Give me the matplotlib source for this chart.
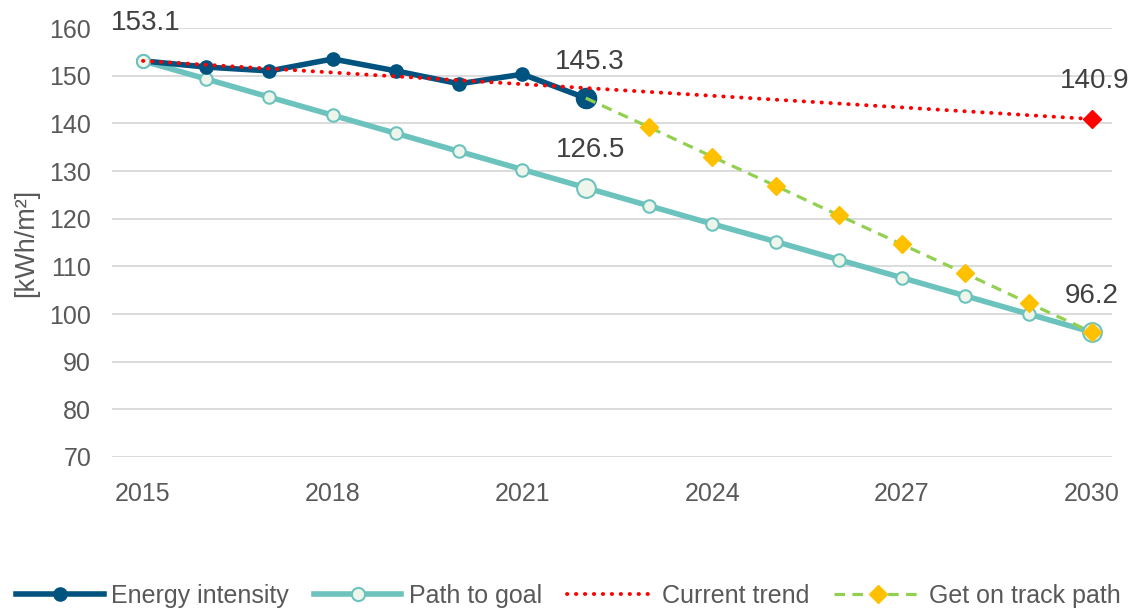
import matplotlib
matplotlib.use("Agg")
import matplotlib.pyplot as plt
from matplotlib.lines import Line2D

plt.rcParams['font.family'] = ['Liberation Sans', 'DejaVu Sans']

years_actual = [2015, 2016, 2017, 2018, 2019, 2020, 2021, 2022]
energy_intensity = [153.1, 151.8, 151.0, 153.5, 151.0, 148.3, 150.3, 145.3]

years_goal = list(range(2015, 2031))
path_to_goal = [153.1, 149.3, 145.5, 141.7, 137.9, 134.1, 130.3, 126.5,
                122.7, 118.9, 115.2, 111.4, 107.6, 103.8, 100.0, 96.2]

years_trend = [2015, 2030]
current_trend = [153.1, 140.9]

years_track = list(range(2022, 2031))
get_on_track = [145.3, 139.2, 133.0, 126.9, 120.7, 114.6, 108.5, 102.3, 96.2]

yticks = [70, 80, 90, 100, 110, 120, 130, 140, 150, 160]
xticks = [2015, 2018, 2021, 2024, 2027, 2030]

C_EI = '#00527F'
C_PG = '#6CC3BD'
C_PG_FILL = '#EEF6EC'
C_TR = '#FF0000'
C_GL = '#92D050'
C_GM = '#FFC000'

DOT = (0, (0.1, 2.2))
DASH = (0, (3.3, 2.3))

fig = plt.figure(figsize=(11.37, 6.10), dpi=100)
ax = fig.add_axes([112/1137, 1-457/610, 1000/1137, (457-28)/610])

# Path to goal
ax.plot(years_goal, path_to_goal, color=C_PG, lw=4.0, zorder=2,
        marker='o', ms=9, mfc=C_PG_FILL, mec=C_PG, mew=1.5)
ax.plot([years_goal[7], years_goal[-1]], [path_to_goal[7], path_to_goal[-1]],
        ls='none', marker='o', ms=13.5, mfc=C_PG_FILL, mec=C_PG, mew=1.5, zorder=3)

# Energy intensity
ax.plot(years_actual, energy_intensity, color=C_EI, lw=4.0, zorder=4,
        marker='o', ms=9.5, mfc=C_EI, mec=C_EI)
ax.plot([years_actual[-1]], [energy_intensity[-1]], ls='none', marker='o', ms=14.5,
        mfc=C_EI, mec=C_EI, zorder=4)
ax.plot([years_goal[0]], [path_to_goal[0]], ls='none', marker='o', ms=9.5,
        mfc=C_PG_FILL, mec=C_PG, mew=1.5, zorder=5)

# Current trend
ax.plot(years_trend, current_trend, color=C_TR, lw=2.8, ls=DOT,
        dash_capstyle='round', zorder=6)
ax.plot([years_trend[-1]], [current_trend[-1]], ls='none', marker='D', ms=9.5,
        color=C_TR, zorder=6)

# Get on track
ax.plot(years_track, get_on_track, color=C_GL, lw=2.3, ls=DASH, zorder=7)
ax.plot(years_track[1:], get_on_track[1:], ls='none', marker='D', ms=9.5,
        color=C_GM, zorder=8)

ax.set_xlim(2014.51, 2030.32)
ax.set_ylim(70, 160)
ax.set_yticks(yticks)
ax.set_xticks(xticks)
ax.grid(axis='y', color='#D9D9D9', lw=1.3)
ax.set_axisbelow(True)
for s in ax.spines.values():
    s.set_visible(False)
ax.tick_params(length=0, labelsize=18, colors='#595959')
ax.tick_params(axis='y', pad=15)
ax.tick_params(axis='x', pad=18)
ax.set_ylabel('[kWh/m²]', fontsize=19.5, color='#595959')
ax.yaxis.set_label_coords(-0.073, 0.5)

lab_kw = dict(fontsize=20, color='#404040', ha='center', va='center', clip_on=False)
ax.text(2015.05, 161.0, '153.1', **lab_kw)
ax.text(2022.07, 152.9, '145.3', **lab_kw)
ax.text(2022.08, 134.4, '126.5', **lab_kw)
ax.text(2030.05, 148.9, '140.9', **lab_kw)
ax.text(2030.0, 103.8, '96.2', **lab_kw)

handles = [
    Line2D([], [], color=C_EI, lw=4.0, marker='o', ms=9.5, mfc=C_EI, mec=C_EI),
    Line2D([], [], color=C_PG, lw=4.0, marker='o', ms=9.5, mfc=C_PG_FILL, mec=C_PG, mew=1.5),
    Line2D([], [], color=C_TR, lw=2.8, ls=DOT, dash_capstyle='round'),
    Line2D([], [], color=C_GL, lw=2.3, ls=DASH, marker='D', ms=9.5,
           mfc=C_GM, mec=C_GM),
]
labels = ['Energy intensity', 'Path to goal', 'Current trend', 'Get on track path']
fig.legend(handles, labels, loc='center', bbox_to_anchor=(0.5, 1-596/610), ncol=4,
           frameon=False, fontsize=18, labelcolor='#595959', handlelength=3.5,
           handletextpad=0.3, columnspacing=1.0, borderaxespad=0, borderpad=0)

fig.savefig('out.png', dpi=100)
